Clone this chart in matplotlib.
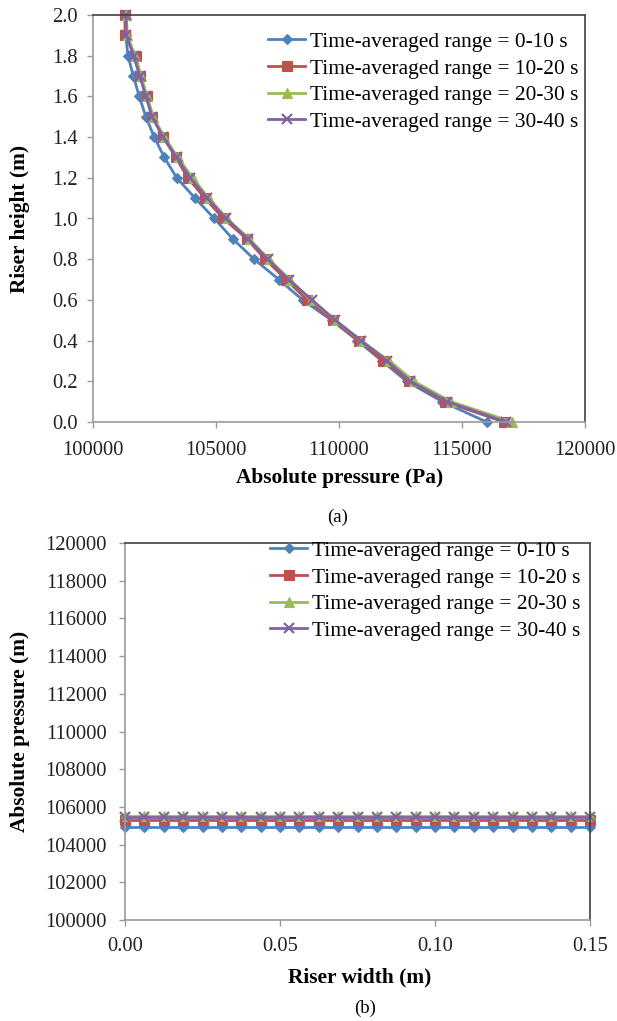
import matplotlib
matplotlib.use("Agg")
import matplotlib.pyplot as plt
import numpy as np

plt.rcParams['font.family'] = ['Liberation Serif', 'DejaVu Serif']

# ---- data: panel (a) ----
heights = [0.0, 0.1, 0.2, 0.3, 0.4, 0.5, 0.6, 0.7, 0.8, 0.9, 1.0,
           1.1, 1.2, 1.3, 1.4, 1.5, 1.6, 1.7, 1.8, 1.9, 2.0]
p_0_10 = [116000, 114200, 112750, 111750, 110750, 109700, 108520, 107560, 106550, 105680, 104930,
          104150, 103400, 102900, 102490, 102150, 101880, 101640, 101420, 101330, 101300]
p_10_20 = [116700, 114300, 112850, 111800, 110800, 109750, 108700, 107850, 107000, 106250, 105300,
           104550, 103850, 103370, 102850, 102410, 102180, 101930, 101730, 101300, 101300]
p_20_30 = [117050, 114550, 113050, 112050, 110900, 109850, 108850, 108000, 107150, 106350, 105450,
           104700, 104050, 103450, 102900, 102450, 102200, 101950, 101700, 101400, 101350]
p_30_40 = [116800, 114400, 112900, 111950, 110900, 109850, 108900, 107950, 107100, 106300, 105400,
           104650, 103950, 103400, 102850, 102400, 102150, 101900, 101650, 101350, 101350]

# ---- data: panel (b) ----
widths = [0.0, 0.00625, 0.0125, 0.01875, 0.025, 0.03125, 0.0375, 0.04375, 0.05, 0.05625,
          0.0625, 0.06875, 0.075, 0.08125, 0.0875, 0.09375, 0.1, 0.10625, 0.1125, 0.11875,
          0.125, 0.13125, 0.1375, 0.14375, 0.15]
pw_0_10 = [104950] * 25
pw_10_20 = [105300] * 25
pw_20_30 = [105500] * 25
pw_30_40 = [105450] * 25

labels = ["Time-averaged range = 0-10 s", "Time-averaged range = 10-20 s",
          "Time-averaged range = 20-30 s", "Time-averaged range = 30-40 s"]
colors = ["#4F81BD", "#C0504D", "#9BBB59", "#8064A2"]
markers = ["D", "s", "^", "x"]
msizes = [5.5, 6.5, 7, 7]

W, H = 617, 1021
fig = plt.figure(figsize=(W / 100, H / 100), dpi=100)

def frac(l, t, r, b):
    return [l / W, 1 - b / H, (r - l) / W, (b - t) / H]

TFS = 14.8   # tick labels
LFS = 15.4   # legend / axis labels

def style_axes(ax, xpad, ypad):
    for s in ['left', 'bottom']:
        ax.spines[s].set_color('#9a9a9a')
        ax.spines[s].set_linewidth(1.2)
    for s in ['top', 'right']:
        ax.spines[s].set_color('#404040')
        ax.spines[s].set_linewidth(1.2)
    ax.tick_params(axis='both', direction='out', length=4, width=1.0, color='#9a9a9a',
                   labelsize=TFS, labelcolor='#222222')
    ax.tick_params(axis='x', pad=xpad)
    ax.tick_params(axis='y', pad=ypad)

def add_legend(ax, x_px, y_px):
    ax.legend(loc='upper left', bbox_to_anchor=(x_px / W, 1 - y_px / H),
              bbox_transform=fig.transFigure, frameon=False, fontsize=LFS,
              handlelength=1.75, handletextpad=0.2, labelspacing=0.31,
              borderpad=0, borderaxespad=0)

# Panel (a)
ax1 = fig.add_axes(frac(93, 15, 585, 422))
for ys, c, m, ms, lab in zip([p_0_10, p_10_20, p_20_30, p_30_40], colors, markers, msizes, labels):
    ax1.plot(ys, heights, color=c, marker=m, markersize=ms, lw=2.0, label=lab,
             markeredgewidth=1.6 if m == 'x' else 0.8, clip_on=False)
ax1.set_xlim(100000, 120000)
ax1.set_ylim(0, 2.0)
ax1.set_xticks([100000, 105000, 110000, 115000, 120000])
ax1.set_yticks(np.arange(0, 2.01, 0.2))
ax1.set_yticklabels([f"{v:.1f}" for v in np.arange(0, 2.01, 0.2)])
style_axes(ax1, 10, 7)
ax1.set_xlabel("Absolute pressure (Pa)", fontsize=LFS, fontweight='bold')
ax1.set_ylabel("Riser height (m)", fontsize=LFS, fontweight='bold')
ax1.xaxis.set_label_coords(0.5 + (340 - 339) / 492, (422 - 478) / 407)
ax1.xaxis.label.set_va('center')
ax1.yaxis.set_label_coords((20 - 93) / 492, 0.5)
ax1.yaxis.label.set_va('center')
add_legend(ax1, 268, 32)
fig.text(338 / W, 1 - 517 / H, "(a)", ha='center', va='center', fontsize=13.5)

# Panel (b)
ax2 = fig.add_axes(frac(125, 543, 590, 920))
for ys, c, m, ms, lab in zip([pw_0_10, pw_10_20, pw_20_30, pw_30_40], colors, markers, msizes, labels):
    ax2.plot(widths, ys, color=c, marker=m, markersize=ms, lw=2.0, label=lab,
             markeredgewidth=1.6 if m == 'x' else 0.8, clip_on=False)
ax2.set_xlim(0, 0.15)
ax2.set_ylim(100000, 120000)
ax2.set_xticks([0.0, 0.05, 0.10, 0.15])
ax2.set_xticklabels(["0.00", "0.05", "0.10", "0.15"])
ax2.set_yticks(np.arange(100000, 120001, 2000))
style_axes(ax2, 8, 9)
ax2.set_xlabel("Riser width (m)", fontsize=LFS, fontweight='bold')
ax2.set_ylabel("Absolute pressure (m)", fontsize=LFS, fontweight='bold')
ax2.xaxis.set_label_coords(0.5 + (360 - 357.5) / 465, (920 - 977) / 377)
ax2.xaxis.label.set_va('center')
ax2.yaxis.set_label_coords((20 - 125) / 465, 0.5)
ax2.yaxis.label.set_va('center')
add_legend(ax2, 270, 541)
fig.text(365 / W, 1 - 1008 / H, "(b)", ha='center', va='center', fontsize=13.5)

fig.savefig("out.png", dpi=100)
